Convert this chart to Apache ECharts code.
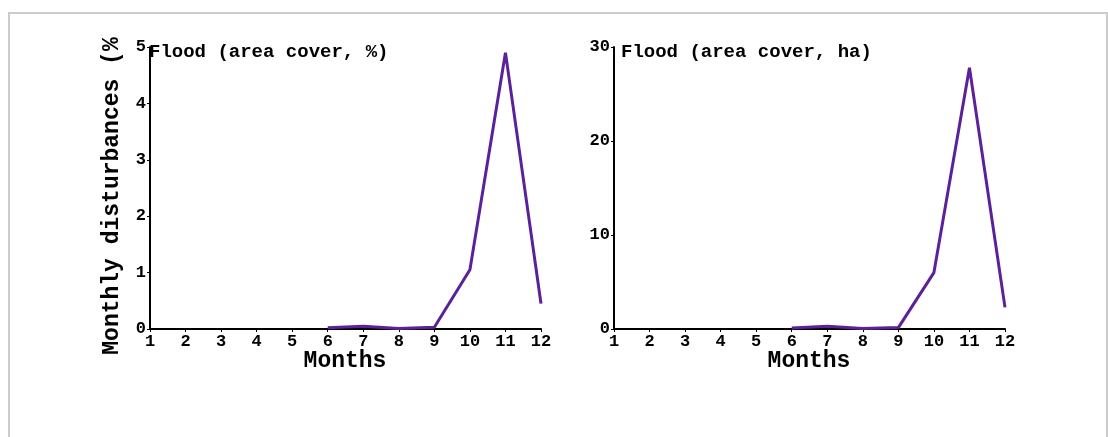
<!DOCTYPE html>
<html>
<head>
<meta charset="utf-8">
<script src="https://cdn.jsdelivr.net/npm/echarts@6/dist/echarts.min.js"></script>
<style>
  html, body { margin: 0; padding: 0; background: #fff; overflow: hidden; }
  #frame {
    position: absolute; left: 8px; top: 12px; width: 1100px; height: 440px;
    border: 2px solid #cccccc; box-sizing: border-box;
  }
  #chart { position: absolute; left: 0; top: 0; width: 1108px; height: 437px; }
</style>
</head>
<body>
<div id="frame"></div>
<div id="chart"></div>
<script>
  // months on x axis
  const months = ['1', '2', '3', '4', '5', '6', '7', '8', '9', '10', '11', '12'];

  // flood area cover, percent (no data for months 1-5)
  const floodPct = [null, null, null, null, null, 0.02, 0.05, 0.01, 0.03, 1.05, 4.9, 0.45];

  // flood area cover, hectares
  const floodHa = [null, null, null, null, null, 0.1, 0.3, 0.05, 0.15, 6.0, 27.8, 2.3];

  const panelTitles = ['Flood (area cover, %)', 'Flood (area cover, ha)'];

  const font = "'Liberation Mono', 'Courier New', monospace";
  const lineColor = '#5b2199';

  const chart = echarts.init(document.getElementById('chart'));

  const xAxisBase = {
    type: 'category',
    data: months,
    boundaryGap: false,
    axisLine: { lineStyle: { color: '#000', width: 2 } },
    axisTick: { show: true, length: 3, lineStyle: { color: '#000' }, alignWithLabel: true },
    axisLabel: { fontFamily: font, fontWeight: 'bold', fontSize: 17, color: '#000', margin: 4, interval: 0 },
    splitLine: { show: false },
  };

  const yAxisBase = {
    type: 'value',
    min: 0,
    axisLine: { show: true, lineStyle: { color: '#000', width: 2 } },
    axisTick: { show: true, length: 3, lineStyle: { color: '#000' } },
    axisLabel: { fontFamily: font, fontWeight: 'bold', fontSize: 17, color: '#000', margin: 4 },
    splitLine: { show: false },
  };

  const bigText = (text, x, y, rotation) => ({
    type: 'text', x, y, rotation: rotation || 0,
    style: {
      text, font: 'bold 23px ' + font, fill: '#000',
      align: 'center', verticalAlign: 'middle',
    },
  });

  const option = {
    animation: false,
    grid: [
      { left: 150, top: 47, width: 391, height: 282 },
      { left: 614, top: 47, width: 391, height: 282 },
    ],
    xAxis: [
      { ...xAxisBase, gridIndex: 0 },
      { ...xAxisBase, gridIndex: 1 },
    ],
    yAxis: [
      { ...yAxisBase, gridIndex: 0, max: 5, interval: 1 },
      { ...yAxisBase, gridIndex: 1, max: 30, interval: 10 },
    ],
    graphic: [
      // y axis title, cut off at the top as in the original figure
      bigText('Monthly disturbances (%', 112, 196, Math.PI / 2),
      bigText('Months', 345, 361),
      bigText('Months', 809, 361),
      {
        type: 'text', left: 149, top: 43,
        style: { text: panelTitles[0], font: 'bold 19px ' + font, fill: '#000' },
      },
      {
        type: 'text', left: 621, top: 43,
        style: { text: panelTitles[1], font: 'bold 19px ' + font, fill: '#000' },
      },
    ],
    series: [
      {
        type: 'line', xAxisIndex: 0, yAxisIndex: 0, data: floodPct,
        showSymbol: false, lineStyle: { color: lineColor, width: 3 },
      },
      {
        type: 'line', xAxisIndex: 1, yAxisIndex: 1, data: floodHa,
        showSymbol: false, lineStyle: { color: lineColor, width: 3 },
      },
    ],
  };

  chart.setOption(option);
</script>
</body>
</html>
